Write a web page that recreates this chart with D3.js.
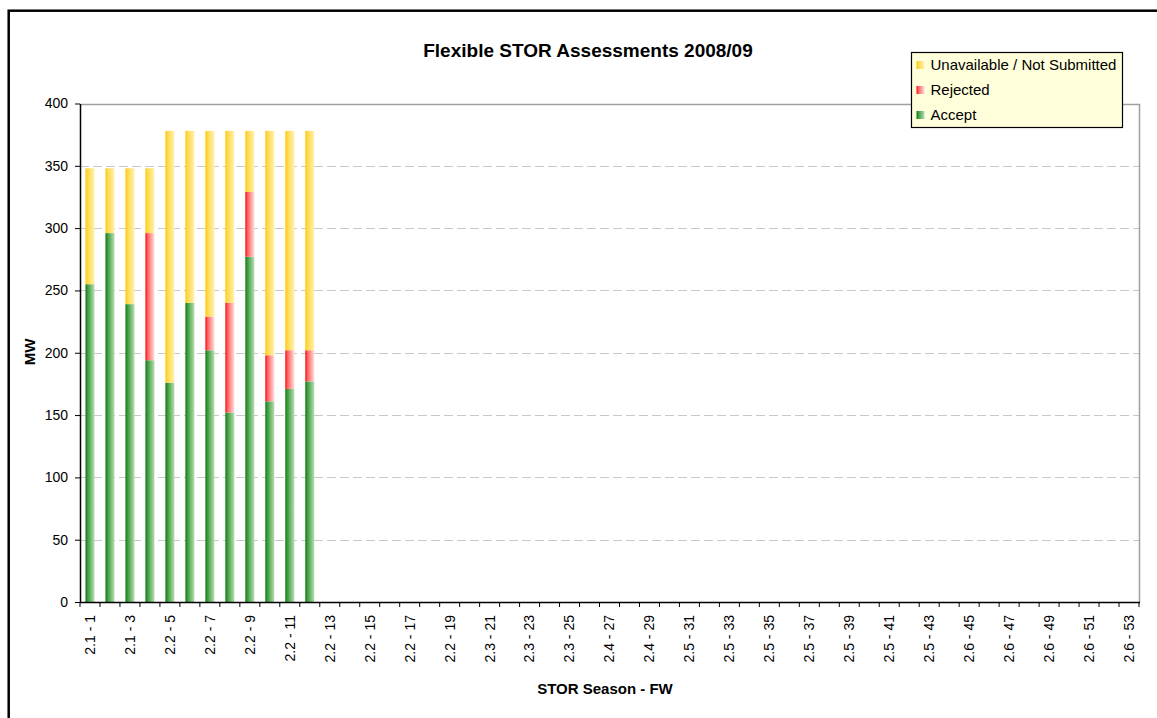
<!DOCTYPE html>
<html>
<head>
<meta charset="utf-8">
<script src="https://cdn.jsdelivr.net/npm/d3@7"></script>
<style>
	body { margin: 0; background: #fff; }
	svg { display: block; font-family: "Liberation Sans", Arial, sans-serif; }
</style>
</head>
<body>
<div id="chart"></div>
<script>
var seasons = ["2.1", "2.1", "2.1", "2.1", "2.2", "2.2", "2.2", "2.2", "2.2", "2.2", "2.2", "2.2", "2.2", "2.2", "2.2", "2.2", "2.2", "2.2", "2.2", "2.2",
	"2.3", "2.3", "2.3", "2.3", "2.3", "2.3", "2.4", "2.4", "2.4", "2.4", "2.5", "2.5", "2.5", "2.5", "2.5", "2.5", "2.5", "2.5", "2.5", "2.5",
	"2.5", "2.5", "2.5", "2.5", "2.6", "2.6", "2.6", "2.6", "2.6", "2.6", "2.6", "2.6", "2.6"];
var weeks = d3.range(1, 54);
var accept = [255, 296, 239, 194, 176, 240, 202, 152, 277, 161, 171, 177];
var rejected = [0, 0, 0, 102, 0, 0, 27, 88, 52, 37, 31, 25];
var unavailable = [93, 52, 109, 52, 202, 138, 149, 138, 49, 180, 176, 176];
var yTicks = [0, 50, 100, 150, 200, 250, 300, 350, 400];
var seriesNames = ["Unavailable / Not Submitted", "Rejected", "Accept"];

var width = 1157, height = 718;
var plotLeft = 80, plotRight = 1139, plotTop = 103.5, plotBottom = 602;

var categories = weeks.map(function (w, i) { return seasons[i] + " - " + w; });

var svg = d3.select("#chart").append("svg")
	.attr("width", width)
	.attr("height", height);

// gradients like the excel bars: dark on the left, pale on the right
var gradients = {
	accept: ["#0a760a", "#3f9c3f", "#b6deb2"],
	rejected: ["#ff0000", "#ff6060", "#ffdcdc"],
	unavailable: ["#ffc800", "#ffd84a", "#fff2b0"]
};
var defs = svg.append("defs");
Object.keys(gradients).forEach(function (key)
{
	var g = defs.append("linearGradient")
		.attr("id", "grad-" + key)
		.attr("x1", "0%").attr("x2", "100%")
		.attr("y1", "0%").attr("y2", "0%");
	g.append("stop").attr("offset", "0%").attr("stop-color", gradients[key][0]);
	g.append("stop").attr("offset", "25%").attr("stop-color", gradients[key][1]);
	g.append("stop").attr("offset", "100%").attr("stop-color", gradients[key][2]);
});

// outer chart border
svg.append("rect")
	.attr("x", 8.7).attr("y", 10.7)
	.attr("width", 1200).attr("height", 800)
	.attr("fill", "none")
	.attr("stroke", "#000")
	.attr("stroke-width", 2.5);

var x = d3.scaleBand()
	.domain(categories)
	.range([plotLeft, plotRight])
	.paddingInner(0.55)
	.paddingOuter(0.275);

var y = d3.scaleLinear()
	.domain([0, 400])
	.range([plotBottom, plotTop]);

// gridlines
svg.append("g")
	.selectAll("line")
	.data(yTicks.filter(function (d) { return d > 0 && d < 400; }))
	.enter()
	.append("line")
	.attr("x1", plotLeft).attr("x2", plotRight)
	.attr("y1", function (d) { return Math.round(y(d)) + 0.5; })
	.attr("y2", function (d) { return Math.round(y(d)) + 0.5; })
	.attr("stroke", "#c8c8c8")
	.attr("stroke-dasharray", "9,4");

// plot area border, top and right
svg.append("path")
	.attr("d", "M" + plotLeft + "," + (Math.round(plotTop) + 0.5) + "H" + (plotRight + 0.5) + "V" + plotBottom)
	.attr("fill", "none")
	.attr("stroke", "#a0a0a0")
	.attr("stroke-width", 1.5);

// stacked bars
var stackData = accept.map(function (a, i)
{
	return { cat: categories[i], accept: a, rejected: rejected[i], unavailable: unavailable[i] };
});
var stack = d3.stack().keys(["accept", "rejected", "unavailable"]);
var layers = stack(stackData);

svg.append("g")
	.selectAll("g")
	.data(layers)
	.enter()
	.append("g")
	.attr("fill", function (d) { return "url(#grad-" + d.key + ")"; })
	.selectAll("rect")
	.data(function (d) { return d.filter(function (p) { return p[1] > p[0]; }); })
	.enter()
	.append("rect")
	.attr("x", function (d) { return x(d.data.cat); })
	.attr("width", x.bandwidth())
	.attr("y", function (d) { return y(d[1]); })
	.attr("height", function (d) { return y(d[0]) - y(d[1]); });

// y axis
var yAxis = svg.append("g")
	.attr("transform", "translate(" + plotLeft + ",0)")
	.call(d3.axisLeft(y).tickValues(yTicks).tickSize(5).tickPadding(7).tickSizeOuter(0));
yAxis.select(".domain").attr("stroke", "#000").attr("stroke-width", 1.5);
yAxis.selectAll("text").attr("font-size", "14px").attr("fill", "#000").attr("font-family", "Liberation Sans, Arial, sans-serif");

// x axis: ticks sit on category boundaries
var xAxisG = svg.append("g");
xAxisG.append("line")
	.attr("x1", plotLeft).attr("x2", plotRight + 1)
	.attr("y1", plotBottom + 0.5).attr("y2", plotBottom + 0.5)
	.attr("stroke", "#000").attr("stroke-width", 1.5);
var step = x.step();
xAxisG.selectAll(".tick")
	.data(d3.range(categories.length + 1))
	.enter()
	.append("line")
	.attr("x1", function (i) { return plotLeft + i * (plotRight - plotLeft) / categories.length; })
	.attr("x2", function (i) { return plotLeft + i * (plotRight - plotLeft) / categories.length; })
	.attr("y1", plotBottom).attr("y2", plotBottom + 5)
	.attr("stroke", "#000");

xAxisG.selectAll("text")
	.data(categories.filter(function (c, i) { return i % 2 === 0; }))
	.enter()
	.append("text")
	.attr("transform", function (d) { return "translate(" + (x(d) + x.bandwidth() / 2) + "," + (plotBottom + 13) + ") rotate(-90)"; })
	.attr("text-anchor", "end")
	.attr("dy", "0.35em")
	.attr("font-size", "14px")
	.text(function (d) { return d; });

// titles
svg.append("text")
	.attr("x", 588).attr("y", 57)
	.attr("text-anchor", "middle")
	.attr("font-size", "19px")
	.attr("font-weight", "bold")
	.text("Flexible STOR Assessments 2008/09");

svg.append("text")
	.attr("x", 605).attr("y", 694)
	.attr("text-anchor", "middle")
	.attr("font-size", "15px")
	.attr("font-weight", "bold")
	.text("STOR Season - FW");

svg.append("text")
	.attr("transform", "translate(35,352) rotate(-90)")
	.attr("text-anchor", "middle")
	.attr("font-size", "15px")
	.attr("font-weight", "bold")
	.text("MW");

// legend
var legend = svg.append("g").attr("transform", "translate(911.5,52.5)");
legend.append("rect")
	.attr("width", 211).attr("height", 75)
	.attr("fill", "#ffffdc")
	.attr("stroke", "#000")
	.attr("stroke-width", 1.2);
var legendKeys = ["unavailable", "rejected", "accept"];
var rows = legend.selectAll(".row")
	.data(seriesNames)
	.enter()
	.append("g")
	.attr("transform", function (d, i) { return "translate(0," + (12.5 + i * 25) + ")"; });
rows.append("rect")
	.attr("x", 5).attr("y", -4)
	.attr("width", 8).attr("height", 8)
	.attr("fill", function (d, i) { return "url(#grad-" + legendKeys[i] + ")"; });
rows.append("text")
	.attr("x", 19).attr("dy", "0.35em")
	.attr("font-size", "15px")
	.text(function (d) { return d; });
</script>
</body>
</html>
